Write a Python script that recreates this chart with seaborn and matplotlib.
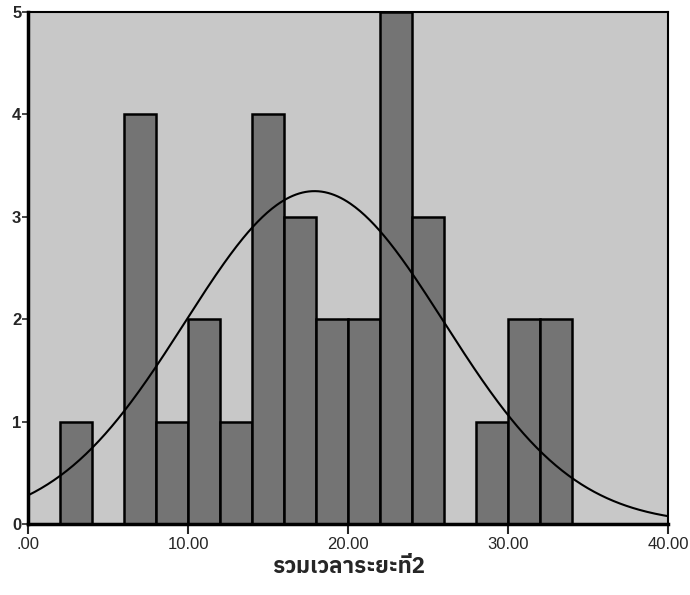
import numpy as np
import pandas as pd
import seaborn as sns
import matplotlib.pyplot as plt
from matplotlib import font_manager

# histogram data (bin width 2)
bin_start = [2, 6, 8, 10, 12, 14, 16, 18, 20, 22, 24, 28, 30, 32]
counts = [1, 4, 1, 2, 1, 4, 3, 2, 2, 5, 3, 1, 2, 2]
edges = list(range(0, 42, 2))
x_ticks = [0, 10, 20, 30, 40]
x_labels = [".00", "10.00", "20.00", "30.00", "40.00"]
y_ticks = [0, 1, 2, 3, 4, 5]
xlabel = "รวมเวลาระยะที่2"
# fitted normal curve
mean, sd = 17.9, 8.1

sns.set_theme(style="white")
thai = [f.name for f in font_manager.fontManager.ttflist if "Thai" in f.name]
plt.rcParams["font.family"] = ["Liberation Sans"] + thai[:1] + ["DejaVu Sans"]

df = pd.DataFrame({"mid": [b + 1 for b in bin_start], "n": counts})

fig, ax = plt.subplots(figsize=(6.9, 5.95), dpi=100)
fig.subplots_adjust(left=0.041, right=0.968, top=0.98, bottom=0.119)
ax.set_facecolor("#c8c8c8")

sns.histplot(data=df, x="mid", weights="n", bins=edges, stat="count",
             color="#747474", alpha=1, edgecolor="black", linewidth=1.8, ax=ax)

xs = np.linspace(0, 40, 400)
ys = sum(counts) * 2 / (sd * np.sqrt(2 * np.pi)) * np.exp(-0.5 * ((xs - mean) / sd) ** 2)
sns.lineplot(x=xs, y=ys, color="black", linewidth=1.5, ax=ax)

ax.set_xlim(0, 40)
ax.set_ylim(0, 5)
ax.set_xticks(x_ticks)
ax.set_xticklabels(x_labels, fontsize=12)
ax.set_yticks(y_ticks)
ax.set_yticklabels([str(v) for v in y_ticks], fontsize=12, fontweight="bold")
ax.tick_params(axis="x", direction="out", length=7, width=1.5, bottom=True, pad=2)
ax.tick_params(axis="y", direction="out", length=4, width=1.2, left=True, pad=1)
for s in ax.spines.values():
    s.set_color("black")
    s.set_linewidth(1.5)
ax.spines["left"].set_linewidth(2.5)
ax.spines["bottom"].set_linewidth(2.5)
ax.set_ylabel("")
ax.set_xlabel(xlabel, fontsize=16, fontweight="bold", labelpad=3,
              family=thai[:1] + ["DejaVu Sans"])

fig.savefig("out.png", dpi=100)
